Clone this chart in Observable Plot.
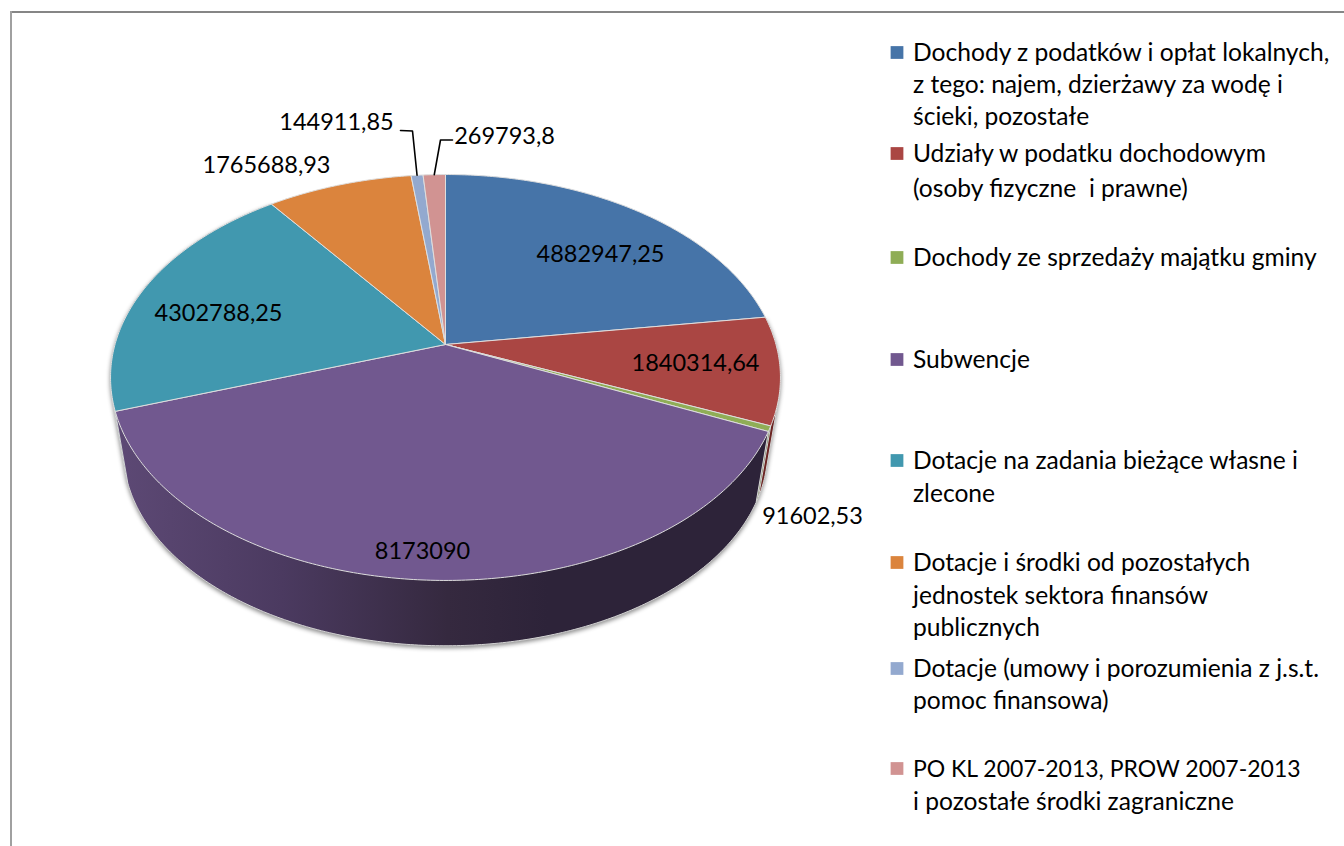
<!DOCTYPE html>
<html>
<head>
<meta charset="utf-8">
<style>html,body{margin:0;padding:0;background:#fff;overflow:hidden}</style>
<script src="https://cdn.jsdelivr.net/npm/d3@7"></script>
<script src="https://cdn.jsdelivr.net/npm/@observablehq/plot@0.6"></script>
</head>
<body>
<div id="chart"></div>
<script>
// ---- data ----
const categories = [
  "Dochody z podatków i opłat lokalnych",
  "Udziały w podatku dochodowym",
  "Dochody ze sprzedaży majątku gminy",
  "Subwencje",
  "Dotacje na zadania bieżące własne i zlecone",
  "Dotacje i środki od pozostałych jednostek",
  "Dotacje (umowy i porozumienia)",
  "PO KL, PROW i pozostałe środki zagraniczne"
];
const values = [4882947.25, 1840314.64, 91602.53, 8173090, 4302788.25, 1765688.93, 144911.85, 269793.8];
const valueLabels = ["4882947,25", "1840314,64", "91602,53", "8173090", "4302788,25", "1765688,93", "144911,85", "269793,8"];
const colors = ["#4674a8", "#aa4643", "#8fad56", "#71588f", "#4198af", "#db843d", "#93a9cf", "#d19392"];
const wallColors = ["#2a3f5c", "#6b2523", "#55682f", "url(#wall)", "#25596a", "#854f22", "#58657c", "#7d5857"];
const legendLines = [
  ["Dochody z podatków i opłat lokalnych,", "z tego: najem, dzierżawy za wodę i", "ścieki, pozostałe"],
  ["Udziały w podatku dochodowym", "(osoby fizyczne  i prawne)"],
  ["Dochody ze sprzedaży majątku gminy"],
  ["Subwencje"],
  ["Dotacje na zadania bieżące własne i", "zlecone"],
  ["Dotacje i środki od pozostałych", "jednostek sektora finansów", "publicznych"],
  ["Dotacje (umowy i porozumienia z j.s.t.", "pomoc finansowa)"],
  ["PO KL 2007-2013, PROW 2007-2013", "i pozostałe środki zagraniczne"]
];

// ---- layout (pixels) ----
const W = 1344, H = 846;
const C = {x: 445, y: 344, R: 330.5, B: 197.6, k: 0.1625};   // perspective of the top face
const F = {y: 418.3, f: 0.962};                              // bottom face
const labelCentres = [[600,254],[695,363],[812,516],[422,551],[218,313],[266,165],[336,122],[504,136]];
const legendRowY = [53,85,117,154,189,258,360,461,494,563,596,628,669,701,769,802];
const legendX = 912.5, legendSwatchX = 896.5;

// ---- geometry derived from the values ----
const pie = d3.pie().sort(null).value(d => d)(values);
const top3 = (a, t = 1) => {
  const u = t * Math.sin(a), v = -t * Math.cos(a), s = 1 / (1 - C.k * v);
  return [C.x + C.R * u * s, C.y + C.B * v * s];
};
const bot3 = a => {
  const u = Math.sin(a), v = -Math.cos(a), s = 1 / (1 - C.k * v);
  return [C.x + F.f * C.R * u * s, F.y + F.f * C.B * v * s];
};
const arc = (a0, a1, fn) => {
  const n = Math.max(2, Math.ceil((a1 - a0) * 90));
  return d3.range(n + 1).map(i => fn(a0 + (a1 - a0) * i / n));
};
const slices = pie.flatMap((p, i) =>
  [[C.x, C.y], ...arc(p.startAngle, p.endAngle, top3), [C.x, C.y]]
    .map(([x, y]) => ({x, y, name: categories[i]})));
const wallOrder = [4, 1, 2, 3];
const walls = wallOrder.flatMap(i => {
  const p = pie[i];
  const hull = d3.polygonHull([...arc(p.startAngle, p.endAngle, top3), ...arc(p.startAngle, p.endAngle, bot3)]);
  return [...hull, hull[0]].map(([x, y]) => ({x, y, i}));
});
const labels = valueLabels.map((t, i) => ({t, x: labelCentres[i][0], y: labelCentres[i][1]}));

// leaders for the two thin slices run from the text to the rim at mid-angle
const mid = p => (p.startAngle + p.endAngle) / 2;
const leader = (i, elbow) => {
  const [x, y] = top3(mid(pie[i]));
  return elbow.concat([[x, y]]).map(([x, y]) => ({x, y, i}));
};
const leaders = [...leader(6, [[400,130],[412,130.5]]), ...leader(7, [[452,139.5],[440,139.5]])];

let row = 0;
const legendText = legendLines.flatMap(ls => ls.map(t => ({t, y: legendRowY[row++]})));
row = 0;
const swatches = legendLines.map((ls, i) => {
  const d = {name: categories[i], y: legendRowY[row] - 1};
  row += ls.length;
  return d;
});

const shadow = (index, scales, vals, dims, ctx, next) => {
  const g = next(index, scales, vals, dims, ctx);
  g.style.filter = "drop-shadow(0px 2px 2px rgba(0,0,0,0.45))";
  return g;
};

const defs = () => {
  const d = d3.create("svg:defs");
  const g = d.append("linearGradient").attr("id", "wall").attr("gradientUnits", "userSpaceOnUse")
    .attr("x1", 115).attr("x2", 780).attr("y1", 0).attr("y2", 0);
  [[0, "#5d4975"], [0.25, "#4b3a60"], [0.5, "#35293f"], [0.65, "#2d2339"], [1, "#2d2339"]]
    .forEach(([o, c]) => g.append("stop").attr("offset", o).attr("stop-color", c));
  return d.node();
};

const chart = Plot.plot({
  width: W, height: H,
  margin: 0,
  x: {domain: [0, W], range: [0, W], axis: null},
  y: {domain: [0, H], range: [0, H], axis: null},
  color: {domain: categories, range: colors},
  style: {fontFamily: "Lato, sans-serif", background: "#fff"},
  marks: [
    defs,
    Plot.ruleY([11.5], {x1: 10, x2: W, stroke: "#868686", strokeWidth: 2}),
    Plot.ruleX([10.5], {y1: 11, y2: H, stroke: "#a0a0a0", strokeWidth: 2}),
    // side walls
    Plot.line(walls, {x: "x", y: "y", z: "i", curve: "linear", stroke: "#d4d4d4", strokeWidth: 1,
      fill: d => wallColors[d.i], render: shadow}),
    // top face
    Plot.line(slices, {x: "x", y: "y", z: "name", fill: "name", curve: "linear", stroke: "#dedede", strokeWidth: 1}),
    // leaders
    Plot.line(leaders, {x: "x", y: "y", z: "i", stroke: "#000", strokeWidth: 1.6, curve: "linear"}),
    // value labels
    Plot.text(labels, {x: "x", y: "y", text: "t", fontSize: 23.5, fill: "#000"}),
    // legend
    Plot.dot(swatches, {x: () => legendSwatchX, y: "y", fill: "name", symbol: "square", r: 7.2}),
    Plot.text(legendText, {x: () => legendX, y: "y", text: "t", textAnchor: "start", fill: "#000",
      fontSize: d => /\d{4}.*\d{4}/.test(d.t) ? 23 : 24.6})
  ]
});
document.getElementById("chart").appendChild(chart);
</script>
</body>
</html>
